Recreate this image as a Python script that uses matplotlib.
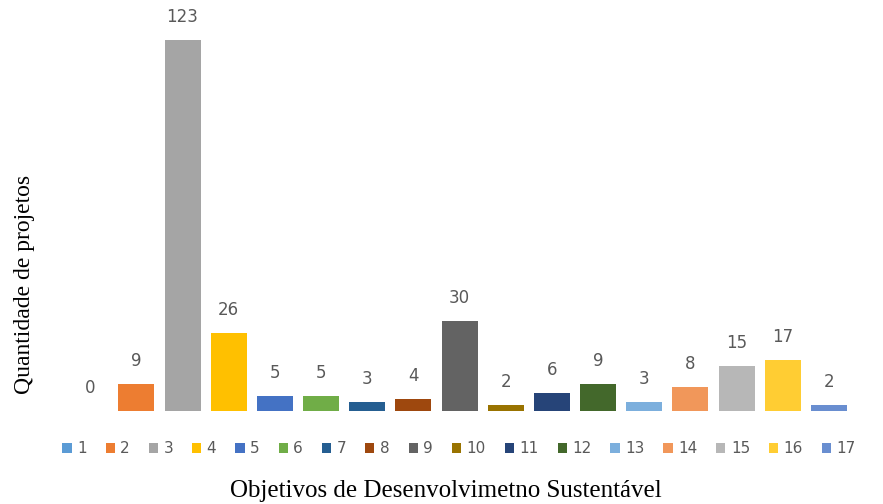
import matplotlib.pyplot as plt
from matplotlib.patches import Patch

# Data
ods = [str(i) for i in range(1, 18)]
projetos = [0, 9, 123, 26, 5, 5, 3, 4, 30, 2, 6, 9, 3, 8, 15, 17, 2]
cores = ['#5B9BD5', '#ED7D31', '#A5A5A5', '#FFC000', '#4472C4', '#70AD47',
         '#255E91', '#9E480E', '#636363', '#997300', '#264478', '#43682B',
         '#7CAFDD', '#F1975A', '#B7B7B7', '#FFCD33', '#698ED0']

fig = plt.figure(figsize=(8.83, 5.04), dpi=100)
ax = fig.add_axes([0.076, 0.1845, 0.889, 0.808])

x = range(len(ods))
bars = ax.bar(x, projetos, width=0.78, color=cores)

# value labels above bars
for xi, v in zip(x, projetos):
    ax.annotate(str(v), (xi, v), xytext=(0, 10), textcoords='offset points',
                ha='center', va='bottom', fontsize=12, color='#595959')

ax.set_xlim(-0.5, len(ods) - 0.5)
ax.set_ylim(0, 135)
ax.set_xticks([])
ax.set_yticks([])
for s in ax.spines.values():
    s.set_visible(False)

# legend in one row below the bars
handles = [Patch(facecolor=c, label=l) for c, l in zip(cores, ods)]
fig.legend(handles=handles, ncol=17, loc='center', bbox_to_anchor=(0.52, 0.11),
           frameon=False, fontsize=11, handlelength=0.6, handleheight=0.6,
           handletextpad=0.35, columnspacing=1.25, labelcolor='#595959')

fig.text(0.505, 0.026, 'Objetivos de Desenvolvimetno Sustentável', ha='center',
         va='center', fontsize=18, family='Liberation Serif')
fig.text(0.028, 0.435, 'Quantidade de projetos', ha='center', va='center',
         rotation=90, fontsize=17, family='Liberation Serif')

fig.savefig('out.png', dpi=100)
